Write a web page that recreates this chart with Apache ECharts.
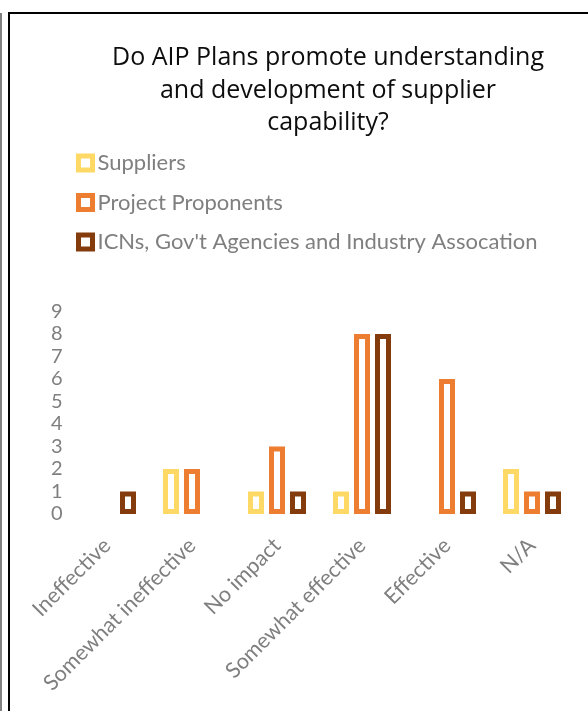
<!DOCTYPE html>
<html>
<head>
<meta charset="utf-8">
<script src="https://cdn.jsdelivr.net/npm/echarts@6/dist/echarts.min.js"></script>
<style>
  html, body { margin: 0; padding: 0; background: #fff; }
  #chart { width: 588px; height: 711px; }
</style>
</head>
<body>
<div id="chart"></div>
<script>
// Survey responses per rating, one array per respondent group
const categories = ['Ineffective', 'Somewhat ineffective', 'No impact', 'Somewhat effective', 'Effective', 'N/A'];
const suppliers = [0, 2, 1, 1, 0, 2];
const proponents = [0, 2, 3, 8, 6, 1];
const networks = [1, 0, 1, 8, 1, 1];

const seriesNames = ['Suppliers', 'Project Proponents', "ICNs, Gov't Agencies and Industry Assocation"];
const seriesColors = ['#FFD966', '#ED7D31', '#843C0C'];

const BORDER = 5;
const GREY = '#7f7f7f';

// Outlined bars; an empty response count draws nothing at all
function outlined(values) {
  return values.map(v => v === 0 ? { value: 0, itemStyle: { borderWidth: 0 } } : v);
}

const chart = echarts.init(document.getElementById('chart'), null, { renderer: 'canvas' });

chart.setOption({
  backgroundColor: '#fff',
  animation: false,
  title: {
    text: 'Do AIP Plans promote understanding\nand development of supplier\ncapability?',
    left: 328,
    top: 42,
    textAlign: 'center',
    padding: 0,
    textStyle: {
      fontFamily: 'Open Sans',
      fontSize: 25,
      fontWeight: 'normal',
      color: '#0d0d0d',
      lineHeight: 32.5
    }
  },
  legend: {
    orient: 'vertical',
    left: 76,
    top: 152,
    padding: 0,
    itemGap: 17.5,
    itemWidth: 14,
    itemHeight: 14,
    icon: 'rect',
    textStyle: { fontFamily: 'Lato', fontSize: 22, color: GREY, lineHeight: 22 },
    data: seriesNames.map((name, i) => ({
      name,
      itemStyle: { color: '#fff', borderColor: seriesColors[i], borderWidth: BORDER }
    }))
  },
  grid: { left: 64.5, top: 311.5, width: 510, height: 202.5, containLabel: false },
  xAxis: {
    type: 'category',
    data: categories,
    axisLine: { show: false },
    axisTick: { show: false },
    axisLabel: {
      rotate: 45,
      interval: 0,
      margin: 28,
      fontFamily: 'Lato',
      fontSize: 21.5,
      color: GREY
    }
  },
  yAxis: {
    type: 'value',
    min: 0,
    max: 9,
    interval: 1,
    axisLine: { show: false },
    axisTick: { show: false },
    splitLine: { show: false },
    axisLabel: { margin: 2, fontFamily: 'Lato', fontSize: 20, color: GREY }
  },
  series: [suppliers, proponents, networks].map((vals, i) => ({
    name: seriesNames[i],
    type: 'bar',
    barWidth: 16,
    barGap: '31.25%',
    data: outlined(vals),
    itemStyle: { color: '#fff', borderColor: seriesColors[i], borderWidth: BORDER }
  })),
  graphic: [
    // chart frame
    { type: 'rect', silent: true, z: 100,
      shape: { x: 9, y: 13, width: 800, height: 900 },
      style: { fill: 'none', stroke: '#000', lineWidth: 2 } },
    { type: 'line', silent: true, z: 100,
      shape: { x1: 1, y1: 13, x2: 1, y2: 711 },
      style: { stroke: '#808080', lineWidth: 2 } }
  ]
});
</script>
</body>
</html>
